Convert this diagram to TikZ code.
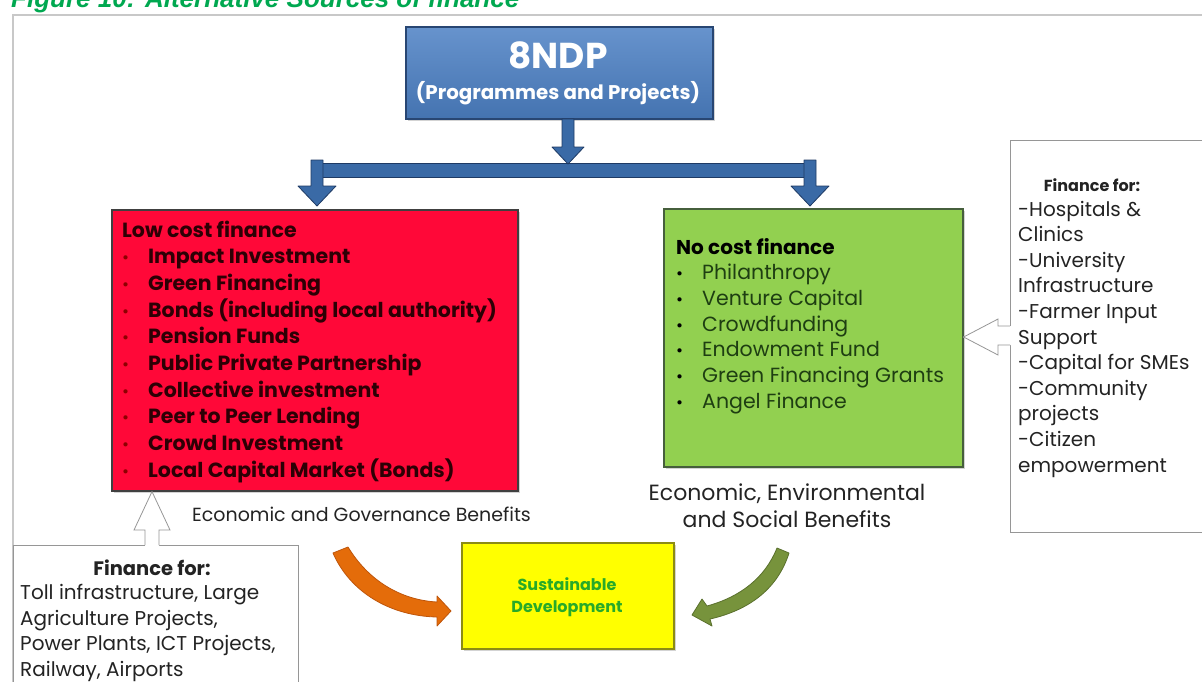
\documentclass[tikz,border=0pt]{standalone}
\usepackage{fontspec}
\setmainfont{Poppins}
\newfontfamily\headfont{Liberation Sans}
\usetikzlibrary{shadows}

\definecolor{titlegreen}{RGB}{0,168,80}
\definecolor{framegray}{RGB}{200,200,200}
\definecolor{ndpblue}{RGB}{76,128,196}
\definecolor{ndpdark}{RGB}{40,70,115}
\definecolor{barblue}{RGB}{58,106,166}
\definecolor{bardark}{RGB}{30,58,100}
\definecolor{lowred}{RGB}{255,8,56}
\definecolor{lowtext}{RGB}{45,0,5}
\definecolor{nogreen}{RGB}{146,208,80}
\definecolor{nodark}{RGB}{70,95,60}
\definecolor{itemgreen}{RGB}{30,62,18}
\definecolor{sdyellow}{RGB}{255,255,0}
\definecolor{sdborder}{RGB}{140,140,20}
\definecolor{sdtext}{RGB}{40,170,40}
\definecolor{orangefill}{RGB}{228,108,10}
\definecolor{orangeline}{RGB}{190,85,10}
\definecolor{olivefill}{RGB}{119,147,60}
\definecolor{oliveline}{RGB}{90,112,45}
\definecolor{bodytext}{RGB}{35,35,35}
\definecolor{hollowgray}{RGB}{150,150,150}

\tikzset{
  panel/.style={anchor=north west, inner sep=0pt, line width=1.6pt},
  softshadow/.style={drop shadow={shadow xshift=2pt, shadow yshift=-2pt, opacity=0.35}},
  blockarrow/.style={fill=barblue, draw=bardark, line width=0.8pt, line join=round},
  hollowfill/.style={fill=white, draw=none},
  hollowline/.style={draw=hollowgray, line width=0.8pt, line join=miter},
  textline/.style={anchor=base west, inner sep=0pt},
  lowitem/.style={textline, font=\bfseries\fontsize{20.5}{20.5}\selectfont, text=lowtext},
  noitem/.style={textline, font=\fontsize{20.5}{20.5}\selectfont, text=itemgreen},
  sideitem/.style={textline, font=\fontsize{20}{20}\selectfont, text=bodytext},
  dotmark/.style={anchor=base west, inner sep=0pt, font=\fontsize{17}{17}\selectfont},
}

\begin{document}
\begin{tikzpicture}[x=1pt,y=-1pt]
\useasboundingbox (0,0) rectangle (1202,681);
\clip (0,0) rectangle (1202,681);

% caption line, cut by the page top
\node[anchor=base west, inner sep=0pt, text=titlegreen,
      font=\headfont\bfseries\itshape\fontsize{26}{26}\selectfont] (title) at (11,7)
      {Figure 10: Alternative Sources of finance};

% outer frame
\draw[framegray, line width=1.2pt] (13,700) -- (13,15) -- (1210,15);

% 8NDP header box
\node[panel, draw=ndpdark, top color=ndpblue!85!white, bottom color=ndpblue!90!black,
      minimum width=307pt, minimum height=92pt, softshadow] (ndp) at (405,26) {};
\node[inner sep=0pt, text=white, font=\bfseries\fontsize{36}{36}\selectfont] (ndptitle) at (558,55) {8NDP};
\node[inner sep=0pt, text=white, font=\bfseries\fontsize{19.8}{19.8}\selectfont] (ndpsub) at (558,93) {(Programmes and Projects)};

% distribution bar with its three arrows
\node[panel, fill=barblue, draw=bardark, line width=0.8pt, minimum width=493pt, minimum height=14pt] (bar) at (317,163) {};
\draw[blockarrow] (562,119) -- (574,119) -- (574,147) -- (584,147) -- (568,164) -- (552,147) -- (562,147) -- cycle;
\draw[blockarrow] (311,160) -- (323,160) -- (323,186) -- (336,186) -- (317,206) -- (298,186) -- (311,186) -- cycle;
\draw[blockarrow] (804,160) -- (816,160) -- (816,186) -- (829,186) -- (810,206) -- (791,186) -- (804,186) -- cycle;

% low cost finance
\node[panel, fill=lowred, draw=black!75, minimum width=406pt, minimum height=281pt, softshadow] (low) at (111,209) {};
\node[lowitem] (lowhead) at (122,237) {Low cost finance};
\foreach \t [count=\i] in {Impact Investment, Green Financing, Bonds (including local authority),
    Pension Funds, Public Private Partnership, Collective investment, Peer to Peer Lending,
    Crowd Investment, Local Capital Market (Bonds)} {
  \node[dotmark, text=red!55!black] (lowdot\i) at (122,{237+26.7*\i}) {•};
  \node[lowitem] (lowitem\i) at (148,{237+26.7*\i}) {\t};
}

% no cost finance
\node[panel, fill=nogreen, draw=nodark, minimum width=299pt, minimum height=258pt, softshadow] (nocost) at (663,208) {};
\node[textline, font=\bfseries\fontsize{20}{20}\selectfont, text=black] (nohead) at (676,254) {No cost finance};
\foreach \t [count=\i] in {Philanthropy, Venture Capital, Crowdfunding, Endowment Fund,
    Green Financing Grants, Angel Finance} {
  \node[dotmark, text=black] (nodot\i) at (676,{254+25.7*\i}) {•};
  \node[noitem] (noitem\i) at (702,{254+25.7*\i}) {\t};
}

% side box on the right
\node[panel, draw=hollowgray, line width=0.9pt, minimum width=220pt, minimum height=392pt] (rightbox) at (1010,140) {};
\node[inner sep=0pt, anchor=base, font=\bfseries\fontsize{16}{16}\selectfont, text=bodytext] (righthead) at (1092,191) {Finance for:};
\foreach \t [count=\i from 0] in {-Hospitals \&, Clinics, -University, Infrastructure, -Farmer Input,
    Support, -Capital for SMEs, -Community, projects, -Citizen, empowerment} {
  \node[sideitem] (rightitem\i) at (1018,{216+25.6*\i}) {\t};
}
% hollow arrow into the green box
\fill[hollowfill] (1012,326) -- (998,326) -- (998,319) -- (963,337) -- (998,355) -- (998,345) -- (1012,345) -- cycle;
\draw[hollowline] (rightbox.west |- 0,326) -- (998,326) -- (998,319) -- (nocost.east |- 0,337) -- (998,355) -- (998,345) -- (rightbox.west |- 0,345);

% side box at the bottom left
\node[panel, draw=hollowgray, line width=0.9pt, minimum width=285pt, minimum height=160pt] (leftbox) at (13,545) {};
\node[inner sep=0pt, anchor=base, font=\bfseries\fontsize{19.5}{19.5}\selectfont, text=bodytext] (lefthead) at (152,575) {Finance for:};
\foreach \t [count=\i] in {{Toll infrastructure, Large}, {Agriculture Projects,},
    {Power Plants, ICT Projects,}, {Railway, Airports}} {
  \node[sideitem] (leftitem\i) at (20,{574+25.6*\i}) {\t};
}
% hollow arrow into the red box
\fill[hollowfill] (145,547) -- (145,530) -- (134,530) -- (152,498) -- (170,530) -- (159,530) -- (159,547) -- cycle;
\draw[hollowline] (145,545) -- (145,530) -- (134,530) -- (low.south -| 152,0) -- (170,530) -- (159,530) -- (159,545);

% benefit captions
\node[inner sep=0pt, anchor=base, font=\fontsize{22}{22}\selectfont, text=bodytext] (envben) at (787,500) {Economic, Environmental};
\node[inner sep=0pt, anchor=base, font=\fontsize{22}{22}\selectfont, text=bodytext] (envben2) at (787,527) {and Social Benefits};
\node[textline, font=\fontsize{19}{19}\selectfont, text=bodytext] (govben) at (192,521) {Economic and Governance Benefits};

% sustainable development
\node[panel, fill=sdyellow, draw=sdborder, minimum width=212pt, minimum height=106pt, softshadow] (sd) at (461,542) {};
\node[inner sep=0pt, anchor=base, font=\bfseries\fontsize{16}{16}\selectfont, text=sdtext] (sd1) at (567,590) {Sustainable};
\node[inner sep=0pt, anchor=base, font=\bfseries\fontsize{16}{16}\selectfont, text=sdtext] (sd2) at (567,612) {Development};

% curved arrows into the yellow box
\draw[fill=orangefill, draw=orangeline, line width=0.8pt, line join=round]
  (348,547) .. controls (368,580) and (400,600) .. (437,602)
  -- (437,596) -- (451,611) -- (437,626) -- (437,617)
  .. controls (390,616) and (350,592) .. (333,553) -- cycle;
\draw[fill=olivefill, draw=oliveline, line width=0.8pt, line join=round]
  (777,548) .. controls (765,578) and (740,597) .. (707,606)
  -- (702,599) -- (692,615) -- (712,626) -- (710,619)
  .. controls (750,610) and (778,588) .. (789,553) -- cycle;
\end{tikzpicture}
\end{document}
